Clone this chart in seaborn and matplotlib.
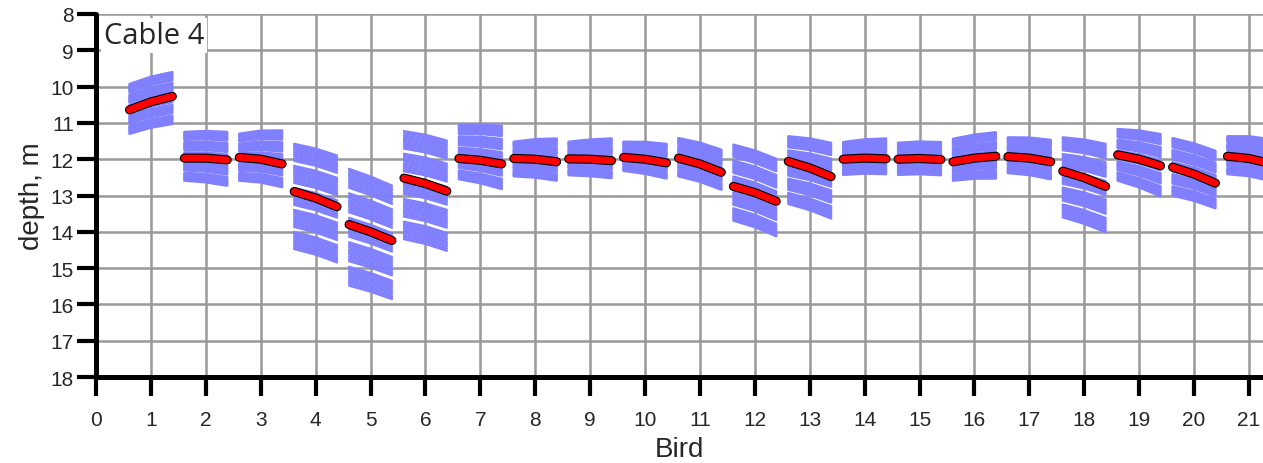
import matplotlib
matplotlib.use('Agg')
import matplotlib.pyplot as plt
import matplotlib.patheffects as pe
import numpy as np
import pandas as pd
import seaborn as sns

# depth of the mean (red) line per bird: left end, middle, right end
birds = list(range(1, 22))
red_left = [10.64, 11.97, 11.95, 12.89, 13.80, 12.52, 11.98, 11.98, 11.99, 11.95, 11.97,
            12.75, 12.06, 12.00, 12.00, 12.07, 11.93, 12.33, 11.88, 12.22, 11.92]
red_mid = [10.42, 11.97, 12.00, 13.07, 14.00, 12.67, 12.03, 12.00, 12.00, 12.00, 12.13,
           12.92, 12.24, 11.97, 11.98, 11.97, 11.97, 12.51, 12.00, 12.41, 11.98]
red_right = [10.27, 12.02, 12.13, 13.31, 14.24, 12.88, 12.13, 12.07, 12.04, 12.10, 12.36,
             13.16, 12.48, 11.99, 12.01, 11.92, 12.07, 12.75, 12.18, 12.66, 12.12]

# envelope of the individual (blue) runs per bird
blue_top_left = [9.93, 11.25, 11.30, 11.58, 12.27, 11.23, 11.06, 11.52, 11.52, 11.52, 11.42,
                 11.60, 11.37, 11.53, 11.55, 11.44, 11.40, 11.40, 11.17, 11.42, 11.37]
blue_top_right = [9.60, 11.25, 11.21, 11.90, 12.73, 11.49, 11.08, 11.43, 11.43, 11.58, 11.74,
                  11.99, 11.55, 11.43, 11.53, 11.26, 11.47, 11.58, 11.31, 11.77, 11.45]
blue_bot_left = [11.30, 12.59, 12.59, 14.47, 15.48, 14.20, 12.55, 12.47, 12.44, 12.32, 12.47,
                 13.69, 13.23, 12.43, 12.43, 12.59, 12.38, 13.60, 12.59, 13.00, 12.41]
blue_bot_right = [11.03, 12.73, 12.77, 14.84, 15.85, 14.52, 12.82, 12.59, 12.52, 12.53, 12.84,
                  14.12, 13.63, 12.41, 12.44, 12.53, 12.55, 14.01, 13.02, 13.35, 12.60]

# relative position of each run inside the envelope (0 = top, 1 = bottom)
run_fracs = [0.00, 0.02, 0.04, 0.06, 0.08, 0.10, 0.12, 0.14, 0.16,
             0.21, 0.23, 0.25, 0.27, 0.29, 0.31, 0.33, 0.35, 0.37,
             0.42, 0.44, 0.46, 0.48, 0.50, 0.52, 0.54, 0.56, 0.58,
             0.63, 0.65, 0.67, 0.69, 0.71, 0.73, 0.75, 0.77, 0.79,
             0.84, 0.86, 0.88, 0.90, 0.92, 0.94, 0.96, 0.98, 1.00]

x_ticks = list(range(0, 22))
y_ticks = list(range(8, 19))

half = 0.39

# build long tables
blue_rows = []
red_rows = []
for i, b in enumerate(birds):
    kink = red_mid[i] - (red_left[i] + red_right[i]) / 2
    for j, f in enumerate(run_fracs):
        l = blue_top_left[i] + f * (blue_bot_left[i] - blue_top_left[i])
        r = blue_top_right[i] + f * (blue_bot_right[i] - blue_top_right[i])
        m = (l + r) / 2 + kink
        uid = f'{b}_{j}'
        blue_rows += [(uid, b - half, l), (uid, b, m), (uid, b + half, r)]
    red_rows += [(b, b - half, red_left[i]), (b, b, red_mid[i]), (b, b + half, red_right[i])]

blue_df = pd.DataFrame(blue_rows, columns=['run', 'x', 'depth'])
red_df = pd.DataFrame(red_rows, columns=['bird', 'x', 'depth'])

sns.set_style('white')
plt.rcParams['font.family'] = ['Liberation Sans', 'DejaVu Sans']

fig = plt.figure(figsize=(12.63, 4.64), dpi=100)
ax = fig.add_axes([96 / 1263, 1 - 378 / 464, 1167 / 1263, 363 / 464])

sns.lineplot(data=blue_df, x='x', y='depth', units='run', estimator=None,
             color='#8080ff', linewidth=1.8, ax=ax, zorder=3)
sns.lineplot(data=red_df, x='x', y='depth', units='bird', estimator=None,
             color='red', linewidth=5.0, ax=ax, zorder=5, solid_capstyle='round',
             solid_joinstyle='round',
             path_effects=[pe.Stroke(linewidth=6.6, foreground='black', capstyle='round'),
                           pe.Normal()])

ax.set_xlim(0, 1167 / 54.9)
ax.set_ylim(18, 8)
ax.set_xticks(x_ticks)
ax.set_yticks(y_ticks)
ax.grid(True, color='#999999', linewidth=1.8, zorder=0)
ax.set_axisbelow(True)

for s in ['top', 'right']:
    ax.spines[s].set_visible(False)
for s in ['left', 'bottom']:
    ax.spines[s].set_linewidth(3.6)
    ax.spines[s].set_color('black')
    ax.spines[s].set_capstyle('round')

ax.tick_params(axis='both', which='major', bottom=True, left=True, direction='out',
               length=14, width=3, color='black', labelsize=15)
ax.tick_params(axis='x', pad=10)
ax.tick_params(axis='y', pad=2)
ax.set_xlabel('Bird', fontsize=20, labelpad=5)
ax.set_ylabel('depth, m', fontsize=20, labelpad=4)

ax.text(0.14, 8.6, 'Cable 4', fontsize=21, family=['Open Sans', 'DejaVu Sans'],
        ha='left', va='center', zorder=7,
        bbox=dict(facecolor='white', edgecolor='none', pad=2))

fig.savefig('out.png', dpi=100)
